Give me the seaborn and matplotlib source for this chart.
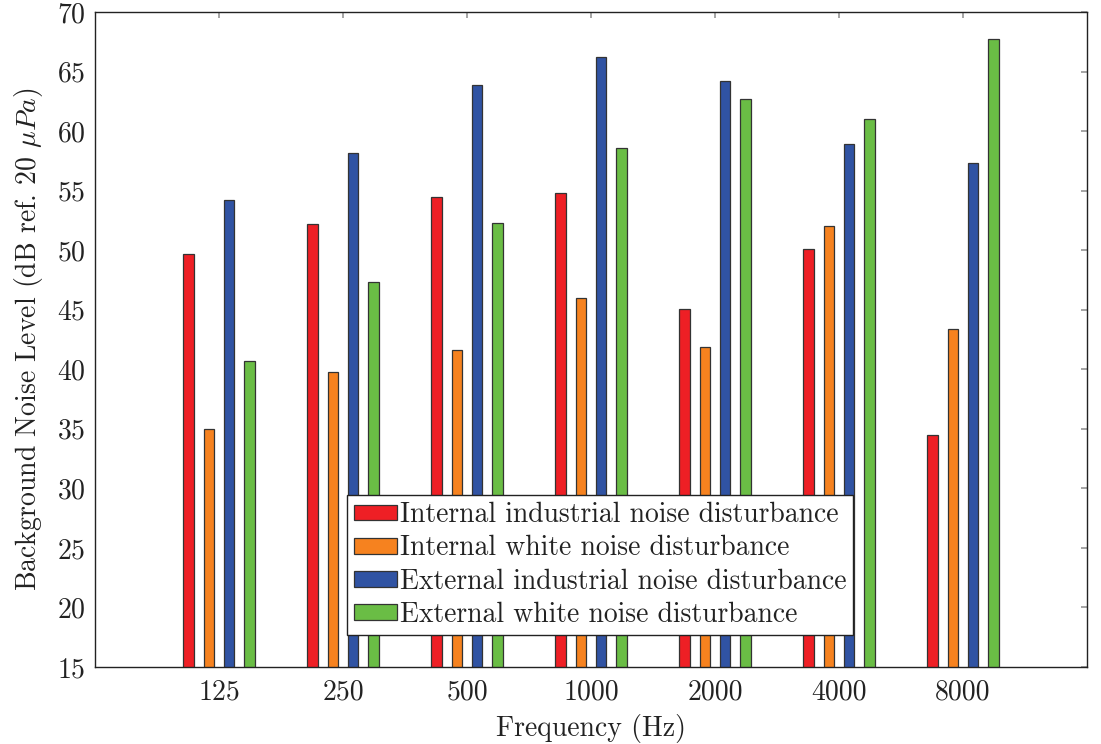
import seaborn as sns
import matplotlib.pyplot as plt
import pandas as pd

frequencies = ['125', '250', '500', '1000', '2000', '4000', '8000']
internal_industrial = [49.7, 52.2, 54.5, 54.8, 45.1, 50.1, 34.5]
internal_white = [35.0, 39.8, 41.6, 46.0, 41.9, 52.0, 43.4]
external_industrial = [54.2, 58.2, 63.9, 66.2, 64.2, 58.9, 57.3]
external_white = [40.7, 47.3, 52.3, 58.6, 62.7, 61.0, 67.7]

series = ['Internal industrial noise disturbance',
          'Internal white noise disturbance',
          'External industrial noise disturbance',
          'External white noise disturbance']
colors = ['#ee1f25', '#f6821f', '#3053a3', '#6abd45']

rows = []
for name, vals in zip(series, [internal_industrial, internal_white,
                               external_industrial, external_white]):
    for f, v in zip(frequencies, vals):
        rows.append({'Frequency': f, 'Level': v, 'Series': name})
df = pd.DataFrame(rows)

sns.set_theme(style="white")
plt.rcParams['font.family'] = ['cmr10', 'DejaVu Serif']
plt.rcParams['mathtext.fontset'] = 'cm'
plt.rcParams['axes.formatter.use_mathtext'] = True
plt.rcParams['axes.unicode_minus'] = False

fig = plt.figure(figsize=(11.01, 7.44), dpi=100)
ax = fig.add_axes([0.0863, 0.1035, 0.901, 0.8804])

sns.barplot(data=df, x='Frequency', y='Level', hue='Series',
            order=frequencies, hue_order=series, palette=colors,
            saturation=1, width=0.655, gap=0.5, edgecolor='#333333',
            linewidth=0.9, ax=ax)

ax.set_ylim(15, 70)
ax.set_xlim(-1, 7)
ax.set_yticks(range(15, 71, 5))
ax.tick_params(axis='both', direction='in', length=4, color='#999999',
               labelsize=20, labelcolor='#222222', top=True, right=True)
ax.tick_params(axis='x', pad=9)
ax.tick_params(axis='y', pad=7)
for s in ax.spines.values():
    s.set_color('#222222')
    s.set_linewidth(1.0)

ax.set_xlabel('Frequency (Hz)', fontsize=20, color='#222222', labelpad=6)
ax.set_ylabel(r'Background Noise Level (dB ref. 20 $\mu Pa$)', fontsize=20,
              color='#222222', labelpad=8)

handles, labels = ax.get_legend_handles_labels()
leg = ax.legend(handles, labels, loc='lower left',
                bbox_to_anchor=(0.254, 0.049), fontsize=19.9,
                frameon=True, fancybox=False, framealpha=1,
                edgecolor='#222222',
                handlelength=1.55, handleheight=0.5, handletextpad=0.12,
                labelspacing=0.25, borderpad=0.25, borderaxespad=0)
leg.get_frame().set_linewidth(1.0)
for t in leg.get_texts():
    t.set_color('#222222')

fig.savefig('out.png', dpi=100)
